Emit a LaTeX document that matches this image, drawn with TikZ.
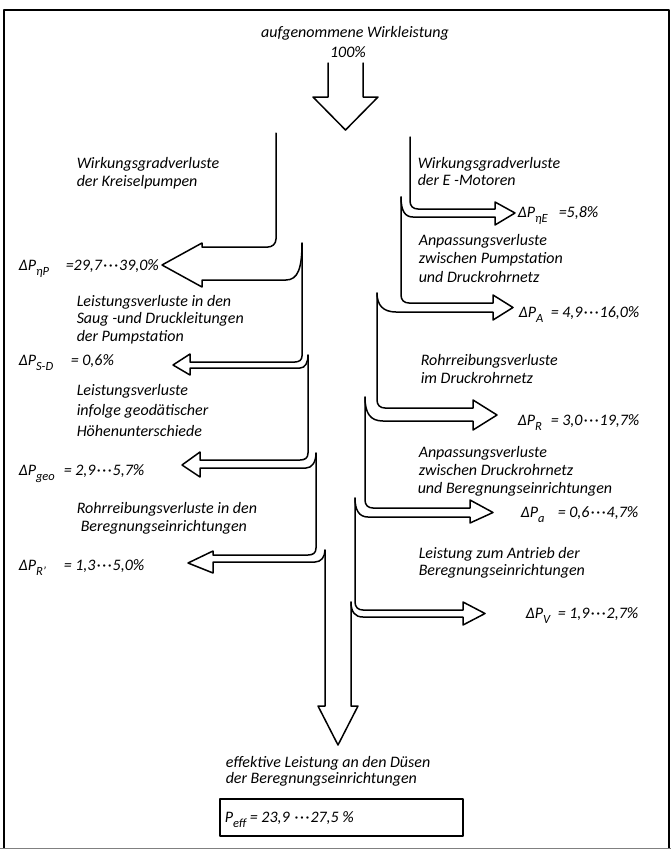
\documentclass[tikz,border=0pt]{standalone}
\usepackage{fontspec}
\setmainfont{Carlito}
\newcommand\sub[1]{\raisebox{-5pt}{\fontsize{12.5}{12.5}\selectfont #1}}
\newcommand\dd{\kern1pt·\kern1.5pt·\kern1.5pt·\kern1pt}
\begin{document}
\begin{tikzpicture}[x=1pt,y=-1pt,line width=1.5pt,line join=round,line cap=round,
  lab/.style={font=\fontsize{16}{18}\selectfont\itshape,anchor=base west,inner sep=0pt},
  ctr/.style={lab,anchor=base}]
\useasboundingbox (0,0) rectangle (671,849);
% frame
\draw[line width=1.5pt] (4,849) -- (4,10) -- (669,10) -- (669,849);
\draw[gray,line width=1pt] (0,848) -- (671,848);
% top
\node[ctr] (t1) at (355,37) {aufgenommene Wirkleistung};
\node[ctr] (t2) at (348,57) {100\%};
\draw (328,63) -- (328,97) -- (313,97) -- (345.5,130) -- (378,97) -- (363,97) -- (363,63);
% left branches
\draw (276,133) -- (276,239) .. controls (276,244) and (272,247) .. (268,247) -- (202,247) -- (202,243) -- (162,265) -- (202,287) -- (202,280) -- (286,280) .. controls (298,280) and (302,268) .. (302,243);
\draw (302,243) -- (302,356) .. controls (302,360) and (299,362) .. (295,362) -- (190,362) -- (190,354) -- (173,365) -- (190,375) -- (190,368) -- (300,368) .. controls (305,368) and (308,363) .. (308,355);
\draw (308,355) -- (308,453) .. controls (308,458) and (305,460) .. (300,460) -- (200,460) -- (200,452) -- (182,465) -- (200,477) -- (200,468) -- (306,468) .. controls (312,468) and (316,462) .. (316,453);
\draw (316,453) -- (316,548) .. controls (316,553) and (313,555) .. (308,555) -- (213,555) -- (213,551) -- (188,563) -- (213,573) -- (213,562) -- (315,562) .. controls (321,562) and (325,557) .. (325,550);
% bottom arrow
\draw (325,550) -- (325,706) -- (318,706) -- (338,745) -- (358,706) -- (351,706) -- (351,602);
% right branches
\draw (410,137) -- (410,201) .. controls (410,206) and (413,209) .. (418,209) -- (495,209) -- (495,202) -- (515,213) -- (495,225) -- (495,217) -- (413,217) .. controls (405,217) and (401,211) .. (401,197);
\draw (401,197) -- (401,295) .. controls (401,300) and (404,303) .. (409,303) -- (493,303) -- (493,295) -- (513,307.5) -- (493,320) -- (493,312) -- (396,312) .. controls (383,312) and (377,305) .. (377,293);
\draw (377,293) -- (377,400) .. controls (377,405) and (380,408) .. (385,408) -- (473,408) -- (473,400) -- (497,415) -- (473,430) -- (473,421) -- (383,421) .. controls (370,421) and (365,413) .. (365,397);
\draw (365,397) -- (365,500) .. controls (365,505) and (368,508) .. (373,508) -- (470,508) -- (470,500) -- (493,512.5) -- (470,523) -- (470,517) -- (368,517) .. controls (359,517) and (355,510) .. (355,498);
\draw (355,498) -- (355,602) .. controls (355,607) and (358,610) .. (363,610) -- (463,610) -- (463,602) -- (485,613.5) -- (463,625) -- (463,617) -- (363,617) .. controls (355,617) and (351,612) .. (351,602);
% left texts
\node[lab] (l1a) at (76,168) {Wirkungsgradverluste};
\node[lab] (l1b) at (76,186) {der Kreiselpumpen};
\node[lab] (l2a) at (76,306) {Leistungsverluste in den};
\node[lab] (l2b) at (76,323) {Saug -und Druckleitungen};
\node[lab] (l2c) at (76,341) {der Pumpstation};
\node[lab] (l3a) at (76,395) {Leistungsverluste};
\node[lab] (l3b) at (76,415) {infolge geodätischer};
\node[lab] (l3c) at (76,436) {Höhenunterschiede};
\node[lab] (l4a) at (76,513) {Rohrreibungsverluste in den};
\node[lab] (l4b) at (80,531) {Beregnungseinrichtungen};
% right texts
\node[lab] (r1a) at (417,168) {Wirkungsgradverluste};
\node[lab] (r1b) at (417,185) {der E -Motoren};
\node[lab] (r2a) at (418,245) {Anpassungsverluste};
\node[lab] (r2b) at (418,263) {zwischen Pumpstation};
\node[lab] (r2c) at (418,282) {und Druckrohrnetz};
\node[lab] (r3a) at (420,365) {Rohrreibungsverluste};
\node[lab] (r3b) at (420,383) {im Druckrohrnetz};
\node[lab] (r4a) at (418,457) {Anpassungsverluste};
\node[lab] (r4b) at (418,475) {zwischen Druckrohrnetz};
\node[lab] (r4c) at (417,493) {und Beregnungseinrichtungen};
\node[lab] (r5a) at (418,558) {Leistung zum Antrieb der};
\node[lab] (r5b) at (418,575) {Beregnungseinrichtungen};
% delta labels
\node[lab] (d1) at (18,270) {ΔP\sub{ηP}};
\node[lab] (v1) at (65,270) {=29,7\dd39,0\%};
\node[lab] (d2) at (18,365) {ΔP\sub{S-D}};
\node[lab] (v2) at (70,365) {= 0,6\%};
\node[lab] (d3) at (18,475) {ΔP\sub{geo}};
\node[lab] (v3) at (63,475) {= 2,9\dd 5,7\%};
\node[lab] (d4) at (18,570) {ΔP\sub{R'}};
\node[lab] (v4) at (63,570) {= 1,3\dd 5,0\%};
\node[lab] (d5) at (517,217) {ΔP\sub{ηE}};
\node[lab] (v5) at (558,217) {=5,8\%};
\node[lab] (d6) at (518,317) {ΔP\sub{A}};
\node[lab] (v6) at (550,317) {= 4,9\dd16,0\%};
\node[lab] (d7) at (517,425) {ΔP\sub{R}};
\node[lab] (v7) at (550,425) {= 3,0\dd19,7\%};
\node[lab] (d8) at (520,517) {ΔP\sub{a}};
\node[lab] (v8) at (557,517) {= 0,6\dd4,7\%};
\node[lab] (d9) at (525,618) {ΔP\sub{V}};
\node[lab] (v9) at (557,618) {= 1,9\dd2,7\%};
% bottom
\node[lab] (b1) at (225,767) {effektive Leistung an den Düsen};
\node[lab] (b2) at (225,783) {der Beregnungseinrichtungen};
\node[draw,line width=1.2pt,minimum width=243pt,minimum height=37pt,inner sep=0pt] (box) at (341.5,817.5) {};
\node[lab] (pe) at (224,822) {P\sub{eff} = 23,9 \dd 27,5 \%};
\end{tikzpicture}
\end{document}
